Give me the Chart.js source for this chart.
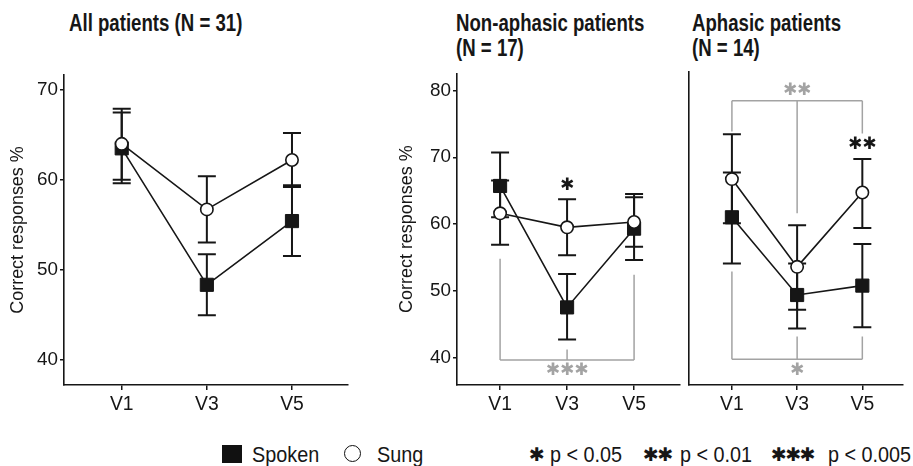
<!DOCTYPE html>
<html>
<head>
<meta charset="utf-8">
<title>Correct responses by visit</title>
<script src="https://cdn.jsdelivr.net/npm/chart.js@4"></script>
<style>
  body { margin: 0; width: 913px; height: 466px; background: #fff; position: relative; overflow: hidden;
         font-family: "Liberation Sans Narrow", "Liberation Sans", Arial, sans-serif; color: #161616; }
  canvas { position: absolute; }
  .title { position: absolute; top: 11px; font-weight: bold; font-size: 23px; line-height: 25px; white-space: nowrap; transform-origin: left top; }
  .leg { position: absolute; top: 444px; font-size: 22px; line-height: 22px; white-space: nowrap; transform-origin: left top; }
  .star { font-family: "DejaVu Sans", sans-serif; font-size: 19px; letter-spacing: -1.5px; }
  .sq { position: absolute; left: 222px; top: 445px; width: 20px; height: 18px; background: #111; }
  .ci { position: absolute; left: 344px; top: 445px; width: 15px; height: 15px; border: 1.6px solid #111; border-radius: 50%; }
  body.wide .title { transform: scaleX(0.81); }
  body.wide .leg.txt { transform: scaleX(0.9); }
</style>
</head>
<body>
  <div class="title" style="left:69px">All patients (N = 31)</div>
  <div class="title" style="left:456px">Non-aphasic patients<br>(N = 17)</div>
  <div class="title" style="left:692px">Aphasic patients<br>(N = 14)</div>

  <canvas id="allChart" width="362" height="360" style="left:0;top:60px"></canvas>
  <canvas id="nonAphChart" width="310" height="360" style="left:380px;top:60px"></canvas>
  <canvas id="aphChart" width="313" height="360" style="left:600px;top:60px"></canvas>

  <div class="sq"></div>
  <div class="leg txt" style="left:252px">Spoken</div>
  <div class="ci"></div>
  <div class="leg txt" style="left:377px">Sung</div>
  <div class="leg star" style="left:529px;top:443px">✱</div>
  <div class="leg txt" style="left:550px">p &lt; 0.05</div>
  <div class="leg star" style="left:643px;top:443px">✱✱</div>
  <div class="leg txt" style="left:680px">p &lt; 0.01</div>
  <div class="leg star" style="left:771px;top:443px">✱✱✱</div>
  <div class="leg txt" style="left:828px">p &lt; 0.005</div>

<script>
  const categories = ['V1', 'V3', 'V5'];
  const allTicks = [40, 50, 60, 70];
  const groupTicks = [40, 50, 60, 70, 80];

  // all patients
  const allSpoken   = [63.5, 48.3, 55.4];
  const allSpokenLo = [59.6, 44.9, 51.5];
  const allSpokenHi = [67.5, 51.7, 59.4];
  const allSung     = [64.0, 56.7, 62.2];
  const allSungLo   = [60.0, 53.0, 59.2];
  const allSungHi   = [67.9, 60.4, 65.2];

  // non-aphasic patients
  const nonAphSpoken   = [65.7, 47.5, 59.3];
  const nonAphSpokenLo = [61.0, 42.7, 54.6];
  const nonAphSpokenHi = [70.7, 52.5, 64.0];
  const nonAphSung     = [61.6, 59.5, 60.3];
  const nonAphSungLo   = [56.9, 55.3, 56.6];
  const nonAphSungHi   = [66.5, 63.7, 64.5];

  // aphasic patients
  const aphSpoken   = [60.9, 49.3, 50.7];
  const aphSpokenLo = [54.0, 44.3, 44.5];
  const aphSpokenHi = [67.6, 54.0, 56.9];
  const aphSung     = [66.6, 53.5, 64.6];
  const aphSungLo   = [60.0, 47.1, 59.3];
  const aphSungHi   = [73.3, 59.7, 69.6];

  // significance brackets: level of the bar, then where each leg stops (V1, V3, V5)
  const nonAphBracketLevel = 39.6;
  const nonAphBracketLegs  = [54.8, 41.2, 52.4];
  const aphTopBracketLevel = 78.3;
  const aphTopBracketLegs  = [73.7, 61.5, 73.4];
  const aphLowBracketLevel = 39.7;
  const aphLowBracketLegs  = [52.8, 43.1, 43.1];

  const INK = '#161616';
  const GRAY = '#a3a3a3';
  const CAP = 9;

  // is the narrow face there? if not, shrink things a bit
  const probe = document.createElement('canvas').getContext('2d');
  function fontExists(name) {
    probe.font = '20px monospace';
    const w0 = probe.measureText('Correct responses').width;
    probe.font = '20px "' + name + '", monospace';
    return probe.measureText('Correct responses').width !== w0;
  }
  const HAS_NARROW = fontExists('Liberation Sans Narrow');
  if (!HAS_NARROW) document.body.classList.add('wide');
  const FAMILY = '"Liberation Sans Narrow", "Liberation Sans", Arial, sans-serif';
  const K = HAS_NARROW ? 1 : 0.92;

  function marks(spec) {
    return {
      id: 'marks',
      beforeDatasetsDraw(chart) {
        const { ctx, scales: { x, y } } = chart;
        ctx.save();
        ctx.strokeStyle = GRAY;
        ctx.lineWidth = 1.5;
        (spec.brackets || []).forEach(b => {
          const yl = y.getPixelForValue(b.level);
          ctx.beginPath();
          ctx.moveTo(x.getPixelForValue(0), yl);
          ctx.lineTo(x.getPixelForValue(2), yl);
          b.legs.forEach((v, i) => {
            const px = x.getPixelForValue(i);
            ctx.moveTo(px, yl);
            ctx.lineTo(px, y.getPixelForValue(v));
          });
          ctx.stroke();
        });
        ctx.strokeStyle = INK;
        ctx.lineWidth = 2;
        chart.data.datasets.forEach(ds => {
          ds.lo.forEach((lo, i) => {
            const px = x.getPixelForValue(i);
            const y0 = y.getPixelForValue(lo), y1 = y.getPixelForValue(ds.hi[i]);
            ctx.beginPath();
            ctx.moveTo(px, y0); ctx.lineTo(px, y1);
            ctx.moveTo(px - CAP, y0); ctx.lineTo(px + CAP, y0);
            ctx.moveTo(px - CAP, y1); ctx.lineTo(px + CAP, y1);
            ctx.stroke();
          });
        });
        ctx.restore();
      },
      afterDatasetsDraw(chart) {
        const { ctx, scales: { x, y } } = chart;
        ctx.save();
        ctx.textAlign = 'center';
        ctx.textBaseline = 'middle';
        ctx.font = '17px "DejaVu Sans", sans-serif';
        (spec.stars || []).forEach(s => {
          ctx.fillStyle = s.color;
          ctx.fillText(s.text, x.getPixelForValue(s.at), y.getPixelForValue(s.y));
        });
        ctx.restore();
      }
    };
  }

  function makeChart(id, cfg) {
    const pts = arr => arr.map((v, i) => ({ x: i, y: v }));
    return new Chart(document.getElementById(id), {
      type: 'line',
      data: {
        datasets: [
          { label: 'Sung', data: pts(cfg.sung), lo: cfg.sungLo, hi: cfg.sungHi, clip: false,
            borderColor: INK, borderWidth: 1.6, pointStyle: 'circle', pointRadius: 6.2,
            pointBackgroundColor: '#fff', pointBorderColor: INK, pointBorderWidth: 1.6 },
          { label: 'Spoken', data: pts(cfg.spoken), lo: cfg.spokenLo, hi: cfg.spokenHi, clip: false,
            borderColor: INK, borderWidth: 1.6, pointStyle: 'rect', pointRadius: 9.3,
            pointBackgroundColor: INK, pointBorderColor: INK, pointBorderWidth: 1 }
        ]
      },
      options: {
        responsive: false,
        animation: false,
        devicePixelRatio: 1,
        layout: { padding: cfg.pad },
        plugins: { legend: { display: false }, tooltip: { enabled: false } },
        scales: {
          x: {
            type: 'linear', min: cfg.xMin, max: cfg.xMax, bounds: 'data',
            afterBuildTicks: s => { s.ticks = categories.map((c, i) => ({ value: i })); },
            afterFit: s => { s.height = 35; },
            ticks: { callback: v => categories[v], font: { family: FAMILY, size: 21 * K }, color: INK,
                     padding: 3, maxRotation: 0, autoSkip: false },
            grid: { drawOnChartArea: false, drawTicks: true, tickLength: 5, color: INK, lineWidth: 1.5 },
            border: { display: true, color: INK, width: 1.6 }
          },
          y: {
            type: 'linear', min: cfg.yMin, max: cfg.yMax, bounds: 'data',
            afterBuildTicks: s => { s.ticks = cfg.ticks.map(v => ({ value: v })); },
            afterFit: s => { s.width = cfg.yWidth; },
            ticks: { display: cfg.showY, font: { family: FAMILY, size: 20.5 * K }, color: INK, padding: 2 },
            grid: { drawOnChartArea: false, drawTicks: cfg.showY, tickLength: 4, color: INK, lineWidth: 1.5 },
            border: { display: true, color: INK, width: 1.6 },
            title: { display: cfg.showY, text: 'Correct responses %', color: INK,
                     font: { family: FAMILY, size: 19.5 * K }, padding: { top: cfg.titlePad, bottom: 0 } }
          }
        }
      },
      plugins: [marks(cfg)]
    });
  }

  makeChart('allChart', {
    spoken: allSpoken, spokenLo: allSpokenLo, spokenHi: allSpokenHi,
    sung: allSung, sungLo: allSungLo, sungHi: allSungHi,
    ticks: allTicks, yMin: 37.14, yMax: 71.67, xMin: -0.678, xMax: 2.658,
    pad: { top: 15, right: 14, left: 0, bottom: 0 }, yWidth: 64, showY: true, titlePad: 7.6
  });

  makeChart('nonAphChart', {
    spoken: nonAphSpoken, spokenLo: nonAphSpokenLo, spokenHi: nonAphSpokenHi,
    sung: nonAphSung, sungLo: nonAphSungLo, sungHi: nonAphSungHi,
    ticks: groupTicks, yMin: 35.87, yMax: 82.58, xMin: -0.643, xMax: 2.681,
    pad: { top: 12, right: 7, left: 0, bottom: 0 }, yWidth: 77, showY: true, titlePad: 16.6,
    brackets: [{ level: nonAphBracketLevel, legs: nonAphBracketLegs }],
    stars: [
      { at: 1, y: 65.7, text: '✱', color: INK },
      { at: 1, y: 38.0, text: '✱✱✱', color: GRAY }
    ]
  });

  makeChart('aphChart', {
    spoken: aphSpoken, spokenLo: aphSpokenLo, spokenHi: aphSpokenHi,
    sung: aphSung, sungLo: aphSungLo, sungHi: aphSungHi,
    ticks: groupTicks, yMin: 35.87, yMax: 82.58, xMin: -0.658, xMax: 2.619,
    pad: { top: 12, right: 0, left: 0, bottom: 0 }, yWidth: 89, showY: false, titlePad: 0,
    brackets: [
      { level: aphTopBracketLevel, legs: aphTopBracketLegs },
      { level: aphLowBracketLevel, legs: aphLowBracketLegs }
    ],
    stars: [
      { at: 1, y: 79.8, text: '✱✱', color: GRAY },
      { at: 2, y: 71.7, text: '✱✱', color: INK },
      { at: 1, y: 38.0, text: '✱', color: GRAY }
    ]
  });
</script>
</body>
</html>
